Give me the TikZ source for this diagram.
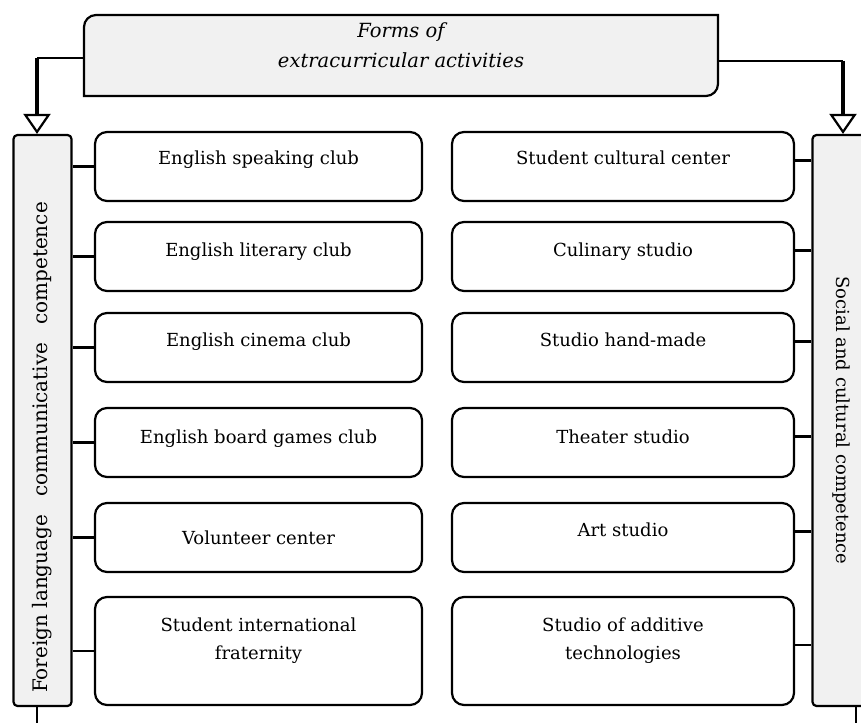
\documentclass[tikz,border=0pt]{standalone}
\usepackage{fontspec}
\setmainfont{DejaVu Serif}
\usetikzlibrary{arrows.meta}
\definecolor{panelgrey}{HTML}{F1F1F1}

\begin{document}
\begin{tikzpicture}[x=1pt, y=1pt,
		box/.style={draw, line width=2.2pt, rounded corners=12pt, fill=white, align=center,
			inner sep=2pt, font=\fontsize{18}{28}\selectfont},
		lbox/.style={box, minimum width=327pt, minimum height=69pt},
		rbox/.style={box, minimum width=342pt, minimum height=69pt},
		bar/.style={draw, line width=2.2pt, rounded corners=4pt, fill=panelgrey, inner sep=0pt,
			minimum width=58pt, minimum height=571pt, font=\fontsize{18}{20}\selectfont},
		link/.style={line width=2.2pt},
		drop/.style={line width=4pt, -{Triangle[open, width=27pt, length=20pt, line width=2.2pt]}}]
		\useasboundingbox (0,0) rectangle (861,723);

		% heading box
		\filldraw[panelgrey, draw=black, line width=2.2pt] (84,627) -- (84,696)
			arc[start angle=180, end angle=90, radius=12] -- (718,708) -- (718,639)
			arc[start angle=0, end angle=-90, radius=12] -- cycle;
		\node[minimum width=634pt, minimum height=81pt] (forms) at (401,667.5) {};
		\node[align=center, font=\fontsize{19.5}{30}\itshape\selectfont] (formstxt) at (401,678)
			{Forms of\\extracurricular activities};

		% side bars
		\node[bar, font=\fontsize{20}{22}\selectfont] (fbar) at (42.5,302.5)
			{\rotatebox{90}{Foreign language\hspace{0.9em}communicative\hspace{0.9em}competence\hspace{54pt}}};
		\node[bar] (sbar) at (841.5,302.5) {\rotatebox{-90}{Social and cultural competence}};

		% left column
		\node[lbox] (speak) at (258.5,556.5) {English speaking club\\[-10pt]};
		\node[lbox] (lit) at (258.5,466.5) {English literary club\\[-14pt]};
		\node[lbox] (cinema) at (258.5,375.5) {English cinema club\\[-12pt]};
		\node[lbox] (games) at (258.5,280.5) {English board games club\\[-16pt]};
		\node[lbox] (volunt) at (258.5,185.5) {Volunteer center};
		\node[lbox, minimum height=108pt] (frat) at (258.5,72) {Student international\\fraternity\\[-4pt]};

		% right column
		\node[rbox] (cultc) at (623,556.5) {Student cultural center\\[-10pt]};
		\node[rbox] (culin) at (623,466.5) {Culinary studio\\[-14pt]};
		\node[rbox] (hand) at (623,375.5) {Studio hand-made\\[-12pt]};
		\node[rbox] (theat) at (623,280.5) {Theater studio\\[-16pt]};
		\node[rbox] (art) at (623,185.5) {Art studio\\[-12pt]};
		\node[rbox, minimum height=108pt] (addit) at (623,72) {Studio of additive\\technologies\\[-4pt]};

		% arrows from the heading
		\coordinate (lturn) at (37,665);
		\coordinate (rturn) at (843,662);
		\draw[link] (forms.west |- lturn) -- (lturn);
		\draw[drop] (lturn) -- (lturn |- fbar.north);
		\draw[link] (forms.east |- rturn) -- (rturn);
		\draw[drop] (rturn) -- (rturn |- sbar.north);

		% ties to the bars
		\foreach \b in {speak, lit, cinema, games, volunt, frat}
			\draw[link] (\b.west) -- (\b.west -| fbar.east);
		\foreach \b in {cultc, culin, hand, theat, art, addit}
			\draw[link] ([yshift=6pt]\b.east) -- ([yshift=6pt]\b.east -| sbar.west);

		% loose ends below the bars
		\coordinate (lfoot) at (37,0);
		\coordinate (rfoot) at (856,0);
		\draw[link] (lfoot |- fbar.south) -- (lfoot);
		\draw[link] (rfoot |- sbar.south) -- (rfoot);
	\end{tikzpicture}
\end{document}
